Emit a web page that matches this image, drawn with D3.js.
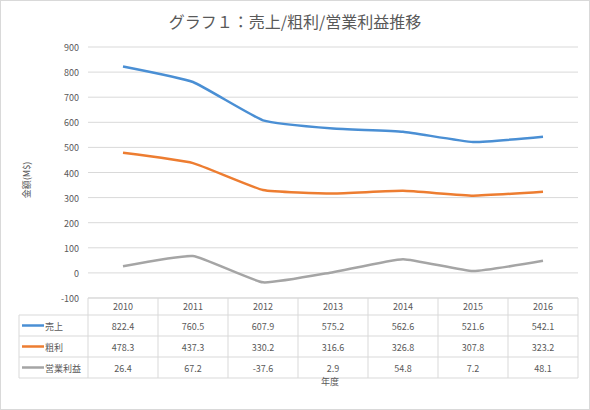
<!DOCTYPE html>
<html><head><meta charset="utf-8">
<script src="https://cdn.jsdelivr.net/npm/d3@7"></script>
<style>body{margin:0;background:#fff}text{font-family:"Noto Sans CJK JP","Noto Sans",sans-serif;fill:#595959}</style>
</head><body><svg id="c" width="590" height="410"></svg>
<script>
var years = ['2010','2011','2012','2013','2014','2015','2016'];
var seriesNames = ['売上','粗利','営業利益'];
var sales = [822.4,760.5,607.9,575.2,562.6,521.6,542.1];
var gross = [478.3,437.3,330.2,316.6,326.8,307.8,323.2];
var operating = [26.4,67.2,-37.6,2.9,54.8,7.2,48.1];
var yTicks = [-100,0,100,200,300,400,500,600,700,800,900];
var colors = ['#4a8fd4','#ed7d31','#a5a5a5'];
var allSeries = [sales, gross, operating];

var svg = d3.select('#c');
svg.append('rect').attr('x',0.5).attr('y',0.5).attr('width',589).attr('height',409)
    .attr('fill','#fff').attr('stroke','#d9d9d9');

var x = d3.scaleBand().domain(years).range([88,578]);
var y = d3.scaleLinear().domain([-100,900]).range([298,47]);

svg.append('text').attr('x',295).attr('y',28).attr('text-anchor','middle')
    .style('font-size','16px').text('グラフ１：売上/粗利/営業利益推移');

// gridlines
svg.selectAll('.grid').data(yTicks).enter().append('line')
    .attr('x1',88).attr('x2',578).attr('y1',function(d){return y(d);}).attr('y2',function(d){return y(d);})
    .attr('stroke','#d9d9d9');
svg.selectAll('.yl').data(yTicks).enter().append('text')
    .attr('x',79).attr('y',function(d){return y(d)+4;}).attr('text-anchor','end')
    .style('font-size','9px').text(function(d){return d;});

svg.append('text').attr('transform','translate(30,180) rotate(-90)').attr('text-anchor','middle')
    .style('font-size','9px').text('金額(M$)');

var line = d3.line().x(function(d,i){return x(years[i])+x.bandwidth()/2;}).y(function(d){return y(d);})
    .curve(d3.curveCardinal.tension(0.6));
allSeries.forEach(function(s,k){
    svg.append('path').attr('d',line(s)).attr('fill','none').attr('stroke',colors[k]).attr('stroke-width',2.5);
});

// data table
var rowTop = 298, headH = 17, rowH = 21, labelX = 19;
var tableBottom = rowTop + headH + rowH*3;
var g = svg.append('g').attr('stroke','#d9d9d9');
g.append('line').attr('x1',88).attr('x2',578).attr('y1',rowTop).attr('y2',rowTop);
for (var r = 0; r <= 3; r++) {
    var yy = rowTop + headH + rowH*r;
    g.append('line').attr('x1',labelX).attr('x2',578).attr('y1',yy).attr('y2',yy);
}
g.append('line').attr('x1',labelX).attr('x2',labelX).attr('y1',rowTop+headH).attr('y2',tableBottom);
years.forEach(function(yr){
    g.append('line').attr('x1',x(yr)).attr('x2',x(yr)).attr('y1',rowTop).attr('y2',tableBottom);
});
g.append('line').attr('x1',578).attr('x2',578).attr('y1',rowTop).attr('y2',tableBottom);

svg.selectAll('.yr').data(years).enter().append('text')
    .attr('x',function(d){return x(d)+x.bandwidth()/2;}).attr('y',rowTop+12)
    .attr('text-anchor','middle').style('font-size','9px').text(function(d){return d;});

allSeries.forEach(function(s,k){
    var cy = rowTop + headH + rowH*k + rowH/2;
    svg.append('line').attr('x1',22).attr('x2',44).attr('y1',cy).attr('y2',cy)
        .attr('stroke',colors[k]).attr('stroke-width',2.5);
    svg.append('text').attr('x',45).attr('y',cy+4).style('font-size','9px').text(seriesNames[k]);
    svg.selectAll('.v'+k).data(s).enter().append('text')
        .attr('x',function(d,i){return x(years[i])+x.bandwidth()/2;}).attr('y',cy+4)
        .attr('text-anchor','middle').style('font-size','9px').text(function(d){return d.toFixed(1);});
});

svg.append('text').attr('x',330).attr('y',385).attr('text-anchor','middle')
    .style('font-size','9px').text('年度');
</script></body></html>
